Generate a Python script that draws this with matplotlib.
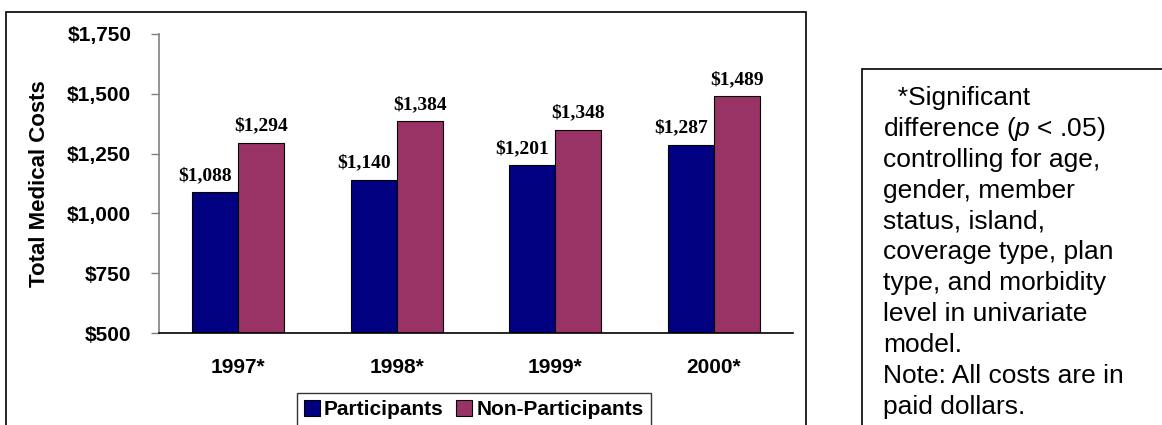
import matplotlib.pyplot as plt
import matplotlib.patches as patches
from matplotlib.ticker import FuncFormatter
import numpy as np

plt.rcParams['font.family'] = ['Liberation Sans', 'DejaVu Sans']
plt.rcParams['mathtext.fontset'] = 'custom'
plt.rcParams['mathtext.rm'] = 'Liberation Sans'
plt.rcParams['mathtext.it'] = 'Liberation Sans:italic'

# costs per year
years = ['1997*', '1998*', '1999*', '2000*']
participants = [1088, 1140, 1201, 1287]
non_participants = [1294, 1384, 1348, 1489]
y_ticks = [500, 750, 1000, 1250, 1500, 1750]

note_lines = ["  *Significant",
              "difference ($p$ < .05)",
              "controlling for age,",
              "gender, member",
              "status, island,",
              "coverage type, plan",
              "type, and morbidity",
              "level in univariate",
              "model.",
              "Note: All costs are in",
              "paid dollars."]

W, H = 1162, 425
fig = plt.figure(figsize=(W / 100, H / 100), dpi=100)
fig.patch.set_facecolor('white')

# outer chart frame, runs off the bottom of the canvas
fig.add_artist(patches.Rectangle((6 / W, -0.2), (806 - 6) / W, 0.2 + (H - 12) / H,
                                 transform=fig.transFigure, fill=False,
                                 edgecolor='black', linewidth=1.2))
# footnote box
fig.add_artist(patches.Rectangle((862 / W, -0.2), 0.5, 0.2 + (H - 69) / H,
                                 transform=fig.transFigure, fill=False,
                                 edgecolor='black', linewidth=1.2))

ax = fig.add_axes([159 / W, (H - 333.3) / H, (793 - 159) / W, (333.3 - 33.7) / H])

x = np.arange(len(years))
w = 0.29
b1 = ax.bar(x - w / 2, participants, w, color='#000080', edgecolor='black',
            linewidth=0.8, label='Participants')
b2 = ax.bar(x + w / 2, non_participants, w, color='#993366', edgecolor='black',
            linewidth=0.8, label='Non-Participants')

# value labels; the left ones are nudged left so they clear the taller bar
for bars, vals, dx in ((b1, participants, -7), (b2, non_participants, 0)):
    for r, v in zip(bars, vals):
        ax.annotate(f'${v:,}', (r.get_x() + r.get_width() / 2, v),
                    xytext=(dx, 6), textcoords='offset points',
                    ha='center', va='bottom', fontsize=14, fontweight='bold',
                    family='Liberation Serif')

ax.set_xlim(-0.5, 3.5)
ax.set_ylim(500, 1750)
ax.set_yticks(y_ticks)
ax.yaxis.set_major_formatter(FuncFormatter(lambda v, p: f'${int(v):,}'))
ax.set_xticks(x)
ax.set_xticklabels(years, fontsize=15, fontweight='bold')
ax.tick_params(axis='x', length=0, pad=18)
ax.tick_params(axis='y', length=6, width=1, color='#808080', pad=14,
               labelsize=15)
for lab in ax.get_yticklabels():
    lab.set_fontweight('bold')
ax.set_ylabel('Total Medical Costs', fontsize=16, fontweight='bold', labelpad=12)

ax.spines['top'].set_visible(False)
ax.spines['right'].set_visible(False)
ax.spines['left'].set_color('#808080')
ax.spines['left'].set_linewidth(1.2)
ax.spines['bottom'].set_color('black')
ax.spines['bottom'].set_linewidth(1.2)
ax.spines['bottom'].set_bounds(-0.5, 3.5)

leg = fig.legend(loc='upper left', bbox_to_anchor=(297 / W, (H - 393) / H),
                 ncol=2, frameon=True, fancybox=False, shadow=False,
                 prop={'weight': 'bold', 'size': 15},
                 handlelength=0.75, handleheight=0.75, handletextpad=0.2,
                 columnspacing=0.6, borderpad=0.35, borderaxespad=0)
leg.get_frame().set_edgecolor('black')
leg.get_frame().set_linewidth(1.0)

# footnote, one line at a time on fixed baselines
for i, line in enumerate(note_lines):
    fig.text(883 / W, (H - 105 - 30.9 * i) / H, line, fontsize=19,
             va='baseline', ha='left')

fig.savefig('out.png', dpi=100)
